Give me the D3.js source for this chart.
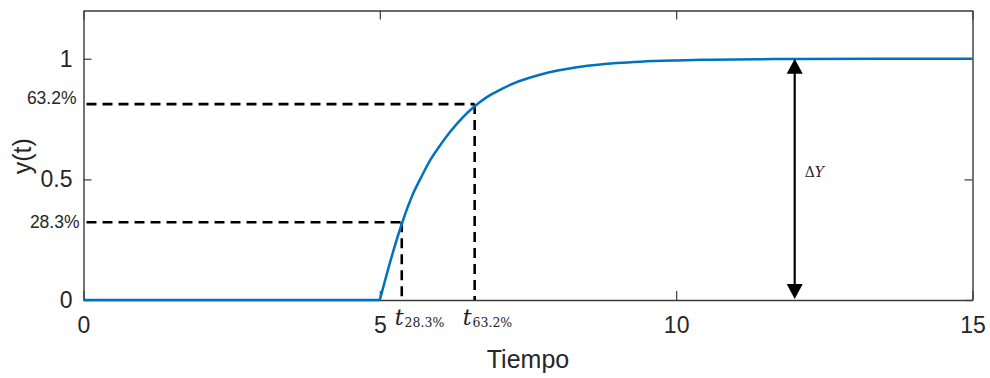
<!DOCTYPE html>
<html>
<head>
<meta charset="utf-8">
<script src="https://cdn.jsdelivr.net/npm/d3@7"></script>
<style>
  html, body { margin: 0; padding: 0; background: #fff; }
  svg { display: block; }
</style>
</head>
<body>
<svg id="chart" width="990" height="378"></svg>
<script>
// Step response of a first-order process with dead time
const timeData = [0, 5.0, 5.2, 5.37, 5.56, 5.7, 5.85, 6.0, 6.18, 6.4, 6.6, 6.8, 7.02, 7.2, 7.41, 7.7, 8.0, 8.3, 8.6, 9.0, 9.4, 10.0, 10.6, 11.4, 12.0, 15];
const responseData = [0, 0, 0.18, 0.315, 0.44, 0.51, 0.58, 0.635, 0.695, 0.757, 0.803, 0.84, 0.87, 0.892, 0.912, 0.934, 0.951, 0.964, 0.973, 0.982, 0.988, 0.993, 0.996, 0.998, 0.999, 1.0];

// Axis ticks
const xTicks = [0, 5, 10, 15];
const yTicks = [0, 0.5, 1];

// Characteristic times and the levels they are read at
const markerLevels = [0.322, 0.812];
const markerLevelLabels = ["28.3%", "63.2%"];
const markerTimes = [5.37, 6.6];
const markerTimeSubscripts = ["28.3%", "63.2%"];

// Span of the output change
const deltaTime = 12;
const deltaRange = [0, 1];
const deltaLabel = ["Δ", "Y"];

const svg = d3.select("#chart");
const plotLeft = 83.5, plotRight = 972.5, plotTop = 10.5, plotBottom = 300;

const x = d3.scaleLinear().domain([0, 15]).range([plotLeft, plotRight]);
const y = d3.scaleLinear().domain([0, 1.2]).range([plotBottom, plotTop]);

const axisColor = "#3a3a3a";
const textColor = "#262626";
const sans = "'Liberation Sans', Arial, sans-serif";

// Box axes with inward ticks
function styleAxis(g) {
  g.select(".domain").attr("stroke", axisColor).attr("stroke-width", 1.4);
  g.selectAll(".tick line").attr("stroke", axisColor).attr("stroke-width", 1.2);
  g.selectAll(".tick text").attr("fill", textColor).attr("font-family", sans).attr("font-size", 23);
}

svg.append("g").attr("transform", `translate(0,${plotBottom})`)
  .call(d3.axisBottom(x).tickValues(xTicks).tickFormat(d3.format("d")).tickSizeInner(-9).tickSizeOuter(0).tickPadding(17))
  .call(styleAxis);
svg.append("g").attr("transform", `translate(0,${plotTop})`)
  .call(d3.axisTop(x).tickValues(xTicks).tickFormat("").tickSizeInner(-9).tickSizeOuter(0))
  .call(styleAxis);
svg.append("g").attr("transform", `translate(${plotLeft},0)`)
  .call(d3.axisLeft(y).tickValues(yTicks).tickFormat(d3.format("")).tickSizeInner(-8).tickSizeOuter(0).tickPadding(11))
  .call(styleAxis);
svg.append("g").attr("transform", `translate(${plotRight},0)`)
  .call(d3.axisRight(y).tickValues(yTicks).tickFormat("").tickSizeInner(-8).tickSizeOuter(0))
  .call(styleAxis);

// Percentage labels next to the y axis
const levelLabelOffsets = [{dx: -4, dy: 6}, {dx: -7, dy: 0}];
svg.append("g").selectAll("text")
  .data(markerLevels)
  .join("text")
  .attr("x", (d, i) => plotLeft + levelLabelOffsets[i].dx)
  .attr("y", (d, i) => y(d) + levelLabelOffsets[i].dy)
  .attr("text-anchor", "end")
  .attr("font-family", sans)
  .attr("font-size", 17.5)
  .attr("fill", textColor)
  .text((d, i) => markerLevelLabels[i]);

// Dashed guide lines
const guides = svg.append("g")
  .attr("fill", "none")
  .attr("stroke", "#000")
  .attr("stroke-width", 2.6)
  .attr("stroke-dasharray", "10,6");
markerLevels.forEach((lvl, i) => {
  guides.append("line")
    .attr("x1", x(0) + 3).attr("x2", x(markerTimes[i]))
    .attr("y1", y(lvl)).attr("y2", y(lvl));
  guides.append("line")
    .attr("x1", x(markerTimes[i])).attr("x2", x(markerTimes[i]))
    .attr("y1", y(lvl)).attr("y2", y(0));
});

// Response curve: flat dead-time part, then the smooth rise
const pts = timeData.map((t, i) => [t, responseData[i]]);
const startIdx = timeData.indexOf(5.0);
const flatLine = d3.line().x(d => x(d[0])).y(d => y(d[1]));
const riseLine = d3.line().x(d => x(d[0])).y(d => y(d[1])).curve(d3.curveMonotoneX);
const curveG = svg.append("g")
  .attr("fill", "none")
  .attr("stroke", "#0072BD")
  .attr("stroke-width", 2.5)
  .attr("stroke-linejoin", "round");
curveG.append("path").attr("d", flatLine(pts.slice(0, startIdx + 1)));
curveG.append("path").attr("d", riseLine(pts.slice(startIdx)));

// Double-headed arrow for the output change
const ax = x(deltaTime);
const yHi = y(deltaRange[1]), yLo = y(deltaRange[0]);
const headLen = 15, headHalf = 8;
svg.append("line")
  .attr("x1", ax).attr("x2", ax)
  .attr("y1", yHi + headLen - 1).attr("y2", yLo - headLen + 1)
  .attr("stroke", "#000").attr("stroke-width", 2.2);
svg.append("path")
  .attr("d", `M${ax},${yHi}L${ax - headHalf},${yHi + headLen}L${ax + headHalf},${yHi + headLen}Z`)
  .attr("fill", "#000");
svg.append("path")
  .attr("d", `M${ax},${yLo - 1}L${ax - headHalf},${yLo - 1 - headLen}L${ax + headHalf},${yLo - 1 - headLen}Z`)
  .attr("fill", "#000");

const serif = "'DejaVu Serif', 'Liberation Serif', serif";
const dText = svg.append("text")
  .attr("x", ax + 10)
  .attr("y", y((deltaRange[0] + deltaRange[1]) / 2) - 2)
  .attr("font-family", serif)
  .attr("font-size", 14)
  .attr("fill", "#222");
dText.append("tspan").text(deltaLabel[0]);
dText.append("tspan").attr("font-style", "italic").text(deltaLabel[1]);

// Time labels t with subscripts under the axis
const timeLabelOffsets = [-7, -12];
markerTimes.forEach((t, i) => {
  const txt = svg.append("text")
    .attr("x", x(t) + timeLabelOffsets[i])
    .attr("y", plotBottom + 25)
    .attr("font-family", serif)
    .attr("fill", "#222");
  txt.append("tspan").attr("font-style", "italic").attr("font-size", 22).text("t");
  txt.append("tspan").attr("font-size", 12.5).attr("dy", 1.5).attr("dx", 1).text(markerTimeSubscripts[i]);
});

// Axis titles
svg.append("text")
  .attr("x", (plotLeft + plotRight) / 2)
  .attr("y", 368)
  .attr("text-anchor", "middle")
  .attr("font-family", sans)
  .attr("font-size", 25)
  .attr("fill", textColor)
  .text("Tiempo");

svg.append("text")
  .attr("transform", `translate(31,${y(0.6) + 1}) rotate(-90)`)
  .attr("text-anchor", "middle")
  .attr("font-family", sans)
  .attr("font-size", 25)
  .attr("fill", textColor)
  .text("y(t)");
</script>
</body>
</html>
